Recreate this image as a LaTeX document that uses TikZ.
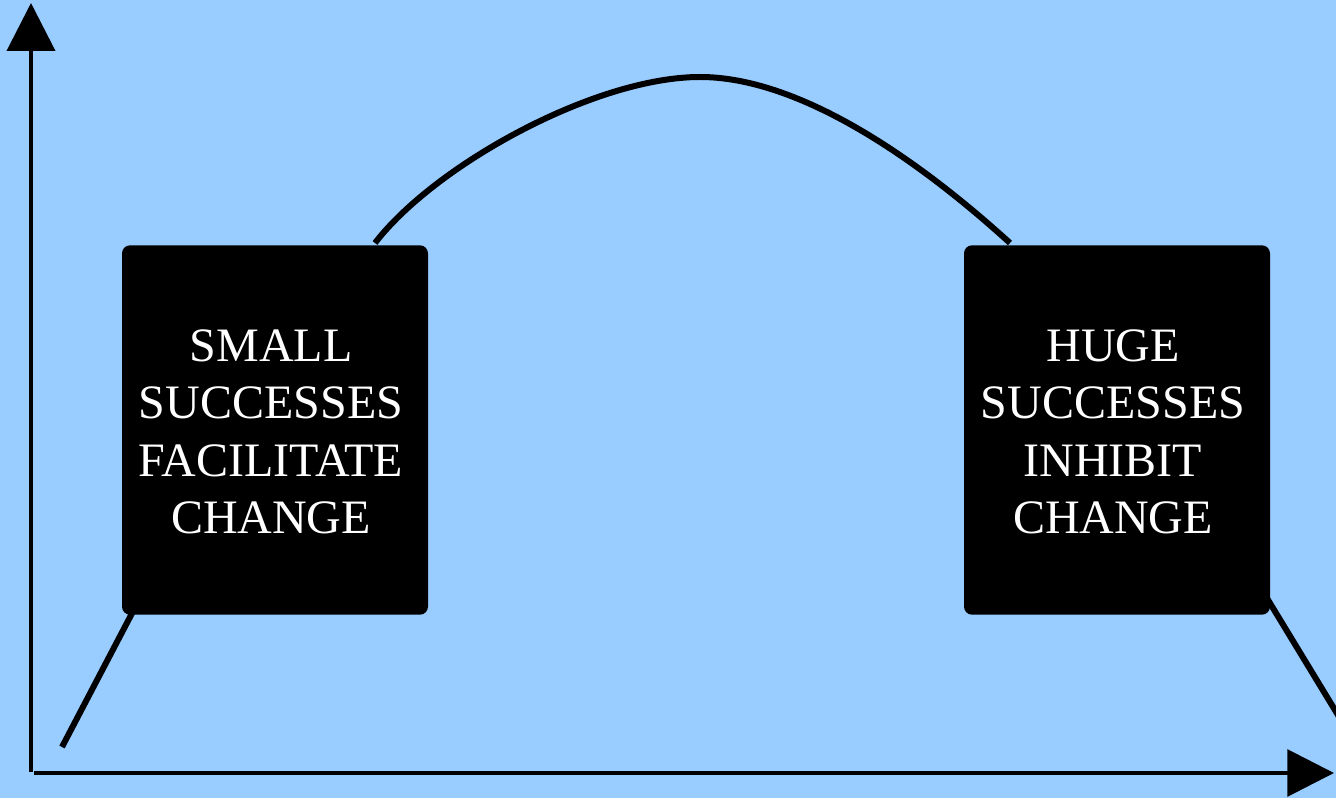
\documentclass[tikz,border=0pt]{standalone}
\usepackage{fontspec}
\setmainfont{Liberation Serif}
\usetikzlibrary{arrows.meta}
\definecolor{bgblue}{RGB}{153,204,255}
\tikzset{
  axis/.style={line width=3pt, draw=black, line cap=butt},
  curveline/.style={line width=4.5pt, draw=black, line cap=butt},
  darkbox/.style={fill=black, draw=none, rounded corners=6pt, minimum width=229.5pt, minimum height=277pt, inner sep=0pt},
  boxtext/.style={text=white, align=center, font=\fontsize{36pt}{43pt}\selectfont, inner sep=0pt},
}
\begin{document}
\begin{tikzpicture}[x=0.75pt,y=-0.75pt]
\fill[bgblue] (0,0) rectangle (1336,798);
\useasboundingbox (0,0) rectangle (1336,798);
% axes
\coordinate (origin) at (31,772);
\coordinate (ytip) at (31,3);
\coordinate (xstart) at (34,773);
\coordinate (xtip) at (1334,773);
\draw[axis, -{Triangle[length=36pt,width=36pt]}] (origin) -- (ytip);
\draw[axis, -{Triangle[length=35pt,width=35pt]}] (xstart) -- (xtip);
% curve
\coordinate (c0) at (62,747);
\coordinate (c1) at (140,598);
\coordinate (c2) at (375,243);
\coordinate (peak) at (700,77);
\coordinate (c3) at (1010,243);
\coordinate (c4) at (1262,590);
\coordinate (c5) at (1341,720);
\draw[curveline] (c0) -- (c1);
\draw[curveline] (c2) .. controls (435,165) and (595,77) .. (peak)
                      .. controls (795,77) and (910,152) .. (c3);
\draw[curveline] (c4) -- (c5);
% boxes
\node[darkbox] (small) at (275,430) {};
\node[boxtext] (smalltext) at ([xshift=-3pt,yshift=-1.5pt]small.center) {SMALL\\SUCCESSES\\FACILITATE\\CHANGE};
\node[darkbox] (huge) at (1117,430) {};
\node[boxtext] (hugetext) at ([xshift=-3pt,yshift=-1.5pt]huge.center) {HUGE\\SUCCESSES\\INHIBIT\\CHANGE};
\end{tikzpicture}
\end{document}
